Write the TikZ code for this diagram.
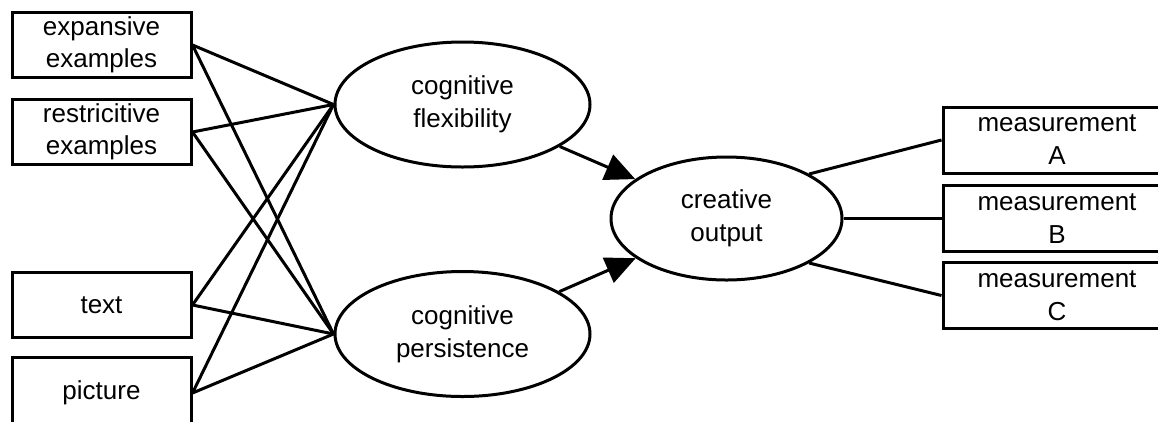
\documentclass[tikz,border=0pt]{standalone}
\usepackage{fontspec}
\setmainfont{Liberation Sans}
\usepackage{tikz}
\usetikzlibrary{positioning, arrows.meta, calc, shapes.geometric}

\begin{document}
\begin{tikzpicture}[x=1pt, y=-1pt, line width=3pt,
    inbox/.style={draw, rectangle, minimum width=179pt, minimum height=65pt, inner sep=0pt, align=center, font=\fontsize{26}{32}\selectfont},
    outbox/.style={draw, rectangle, minimum width=228pt, minimum height=66pt, inner sep=0pt, align=center, font=\fontsize{26}{33}\selectfont},
    latent/.style={draw, ellipse, minimum width=255pt, minimum height=125pt, inner sep=0pt, align=center, font=\fontsize{26}{33}\selectfont},
    link/.style={-{Triangle[length=30pt, width=27pt]}}]
  \useasboundingbox (0,0) rectangle (1158,421);
  \clip (0,0) rectangle (1158,421);
  \node[inbox] (expansive) at (101.5,45) {expansive\\examples};
  \node[inbox] (restrictive) at (101.5,132) {restricitive\\examples};
  \node[inbox] (text) at (101.5,305) {text};
  \node[inbox, minimum height=72pt] (picture) at (101.5,393) {picture};
  \node[latent] (flex) at (462.5,104.5) {cognitive\\flexibility};
  \node[latent] (persist) at (462.5,334) {cognitive\\persistence};
  \node[latent, minimum width=231pt, minimum height=123pt] (creative) at (726.5,218.5) {creative\\output};
  \node[outbox] (measA) at (1057,140) {measurement\\A};
  \node[outbox] (measB) at (1057,218.5) {measurement\\B};
  \node[outbox] (measC) at (1057,295.5) {measurement\\C};
  \foreach \src in {expansive, restrictive, text, picture}{
    \draw (\src.east) -- (flex.west);
    \draw (\src.east) -- (persist.west);
  }
  \draw[link] (flex) -- (creative);
  \draw[link] (persist) -- (creative);
  \draw (creative.north east) -- (measA.west);
  \draw (creative.east) -- (measB.west);
  \draw (creative.south east) -- (measC.west);
\end{tikzpicture}
\end{document}
